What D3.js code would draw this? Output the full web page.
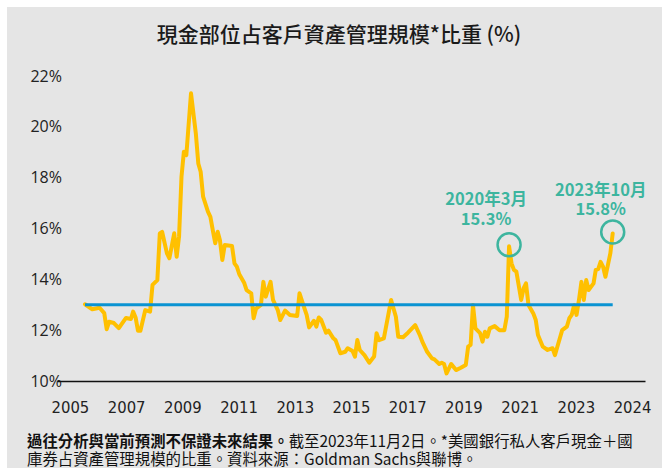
<!DOCTYPE html>
<html>
<head>
<meta charset="utf-8">
<script src="https://cdn.jsdelivr.net/npm/d3@7"></script>
<style>
  body { margin: 0; background: #fff; }
  svg { display: block; }
</style>
</head>
<body>
<div id="chart"></div>
<script>
// cash share of client AUM, monthly readings
const months = [
  "2005-07","2005-10","2006-01","2006-03","2006-04","2006-05","2006-07","2006-09","2006-12",
  "2007-02","2007-03","2007-04","2007-05","2007-06","2007-08","2007-10","2007-11",
  "2008-01","2008-02","2008-03","2008-05","2008-06","2008-08","2008-09","2008-10","2008-11","2008-12",
  "2009-01","2009-03","2009-05","2009-06","2009-07","2009-08","2009-10","2009-11","2009-12",
  "2010-01","2010-02","2010-03","2010-04","2010-05","2010-08","2010-09","2010-10","2010-11",
  "2011-01","2011-02","2011-04","2011-05","2011-06","2011-08","2011-09","2011-10","2011-12",
  "2012-01","2012-03","2012-04","2012-06","2012-08","2012-11","2012-12",
  "2013-02","2013-03","2013-04","2013-06","2013-07","2013-08","2013-09","2013-11","2013-12",
  "2014-02","2014-03","2014-05","2014-07","2014-08","2014-10","2014-11","2014-12",
  "2015-01","2015-03","2015-05","2015-07","2015-08","2015-09","2015-11",
  "2016-02","2016-04","2016-05","2016-07","2016-09","2016-12",
  "2017-02","2017-03","2017-05","2017-07","2017-08","2017-10","2017-11","2017-12",
  "2018-01","2018-03","2018-05","2018-07","2018-09","2018-10","2018-11","2018-12",
  "2019-01","2019-03","2019-04","2019-05","2019-06","2019-07","2019-09","2019-11",
  "2020-01","2020-02","2020-03","2020-04","2020-05","2020-06","2020-08","2020-09","2020-10","2020-11",
  "2021-01","2021-02","2021-03","2021-05","2021-07","2021-09","2021-10","2021-11",
  "2022-01","2022-03","2022-04","2022-05","2022-06","2022-07","2022-08","2022-09","2022-10","2022-11","2022-12",
  "2023-02","2023-03","2023-04","2023-05","2023-06","2023-07","2023-09","2023-10"
];
const cashShare = [
  13.02,12.82,12.88,12.67,12.04,12.33,12.28,12.08,12.48,
  12.44,12.73,12.5,11.98,11.98,12.79,12.73,13.78,
  13.97,15.81,15.87,15.02,14.83,15.81,14.89,15.68,18.04,19.02,
  18.89,21.32,19.74,18.56,18.23,17.25,16.66,16.46,15.94,
  15.42,15.87,15.55,14.76,15.35,15.31,14.63,14.5,14.2,
  13.87,13.58,13.45,12.47,12.85,12.99,13.9,13.32,13.9,
  13.19,12.79,12.4,12.77,12.6,12.56,13.45,
  12.86,12.6,12.11,12.37,12.14,12.5,12.4,11.9,11.98,
  11.68,11.61,11.09,11.15,11.29,11.18,10.96,11.61,
  11.22,11.02,10.72,10.96,11.88,11.61,11.68,
  13.19,12.53,11.74,11.72,11.9,12.2,
  11.78,11.55,11.15,10.89,10.85,10.67,10.72,10.67,
  10.3,10.67,10.43,10.52,10.63,11.35,11.42,12.99,
  12.07,11.88,11.55,11.94,11.74,12.07,12.16,12.0,
  12.0,12.53,15.3,14.63,14.37,14.3,13.19,13.65,13.84,12.99,
  12.66,12.4,11.81,11.35,11.22,11.29,11.02,11.35,
  12.0,12.14,12.47,12.6,12.99,12.6,13.19,13.9,13.19,13.97,13.58,
  13.84,14.37,14.4,14.69,14.5,14.1,15.02,15.8
];
const average = 13;

const yTicks = [10, 12, 14, 16, 18, 20, 22];
const yearLabels = ["2005","2007","2009","2011","2013","2015","2017","2019","2021","2023","2024"];

const callouts = [
  { month: "2020-03", lines: ["2020年3月", "15.3%"] },
  { month: "2023-10", lines: ["2023年10月", "15.8%"] }
];

const titleText = "現金部位占客戶資產管理規模*比重 (%)";
const noteBold = "過往分析與當前預測不保證未來結果。";
const noteLine1 = "截至2023年11月2日。*美國銀行私人客戶現金＋國";
const noteLine2 = "庫券占資產管理規模的比重。資料來源：Goldman Sachs與聯博。";

const width = 662, height = 468;
const cjk = "'Noto Sans CJK TC', 'Noto Sans', sans-serif";

const parseMonth = d3.utcParse("%Y-%m");
const data = months.map((m, i) => ({ date: parseMonth(m), value: cashShare[i] }));

const x = d3.scaleUtc()
  .domain(d3.extent(data, d => d.date))
  .range([85, 612.7]);

const y = d3.scaleLinear()
  .domain([10, 22])
  .range([381, 76]);

const xLabels = d3.scalePoint()
  .domain(yearLabels)
  .range([57, 645])
  .padding(0.23);

const svg = d3.select("#chart").append("svg")
  .attr("width", width)
  .attr("height", height);

svg.append("rect")
  .attr("x", 7).attr("y", 7)
  .attr("width", width - 7).attr("height", height - 7)
  .attr("fill", "#e5e5e5");

svg.append("text")
  .attr("x", 339).attr("y", 42)
  .attr("text-anchor", "middle")
  .style("font-family", cjk)
  .style("font-size", "21px")
  .style("font-weight", 500)
  .attr("fill", "#1a1a1a")
  .text(titleText);

// y axis, labels only
const yAxis = svg.append("g")
  .attr("transform", "translate(66,0)")
  .call(d3.axisLeft(y).tickValues(yTicks).tickSize(0).tickPadding(4).tickFormat(d => d + "%"));
yAxis.select(".domain").remove();
yAxis.selectAll("text")
  .style("font-family", "'Open Sans', sans-serif")
  .style("font-size", "16px")
  .attr("fill", "#222");

// x axis: category labels, domain path is the baseline
const xAxis = svg.append("g")
  .attr("transform", `translate(0,${y(10)})`)
  .call(d3.axisBottom(xLabels).tickSize(0).tickSizeOuter(0).tickPadding(20));
xAxis.select(".domain")
  .attr("stroke", "#111")
  .attr("stroke-width", 1.5);
xAxis.selectAll("text")
  .style("font-family", "'DejaVu Sans Condensed', 'DejaVu Sans', sans-serif")
  .style("font-stretch", "condensed")
  .style("font-size", "16.5px")
  .attr("fill", "#222");

const line = d3.line()
  .x(d => x(d.date))
  .y(d => y(d.value));

svg.append("path")
  .datum(data)
  .attr("d", line)
  .attr("fill", "none")
  .attr("stroke", "#ffc000")
  .attr("stroke-width", 4)
  .attr("stroke-linejoin", "round")
  .attr("stroke-linecap", "round");

const ends = d3.extent(data, d => d.date);
svg.append("path")
  .datum(ends.map(date => ({ date, value: average })))
  .attr("d", line)
  .attr("fill", "none")
  .attr("stroke", "#0a93d2")
  .attr("stroke-width", 3);

// callouts
const teal = "#3db59f";
const byMonth = new Map(months.map((m, i) => [m, cashShare[i]]));
const textShift = [-23, -12];
const textRise = [[-41, -21], [-38, -19]];

callouts.forEach((c, i) => {
  const cx = x(parseMonth(c.month)), cy = y(byMonth.get(c.month));
  svg.append("circle")
    .attr("cx", cx).attr("cy", cy - 1.5)
    .attr("r", 11.5)
    .attr("fill", "none")
    .attr("stroke", teal)
    .attr("stroke-width", 2.5);
  c.lines.forEach((t, j) => {
    svg.append("text")
      .attr("x", cx + textShift[i])
      .attr("y", cy + textRise[i][j])
      .attr("text-anchor", "middle")
      .style("font-family", cjk)
      .style("font-size", "16.5px")
      .style("font-weight", 700)
      .attr("fill", teal)
      .text(t);
  });
});

// footnote
const note = svg.append("g")
  .style("font-family", cjk)
  .style("font-size", "15.4px")
  .attr("fill", "#111");
const l1 = note.append("text").attr("x", 27).attr("y", 447);
l1.append("tspan").style("font-weight", 700).text(noteBold);
l1.append("tspan").text(noteLine1);
note.append("text").attr("x", 27).attr("y", 465).text(noteLine2);
</script>
</body>
</html>
